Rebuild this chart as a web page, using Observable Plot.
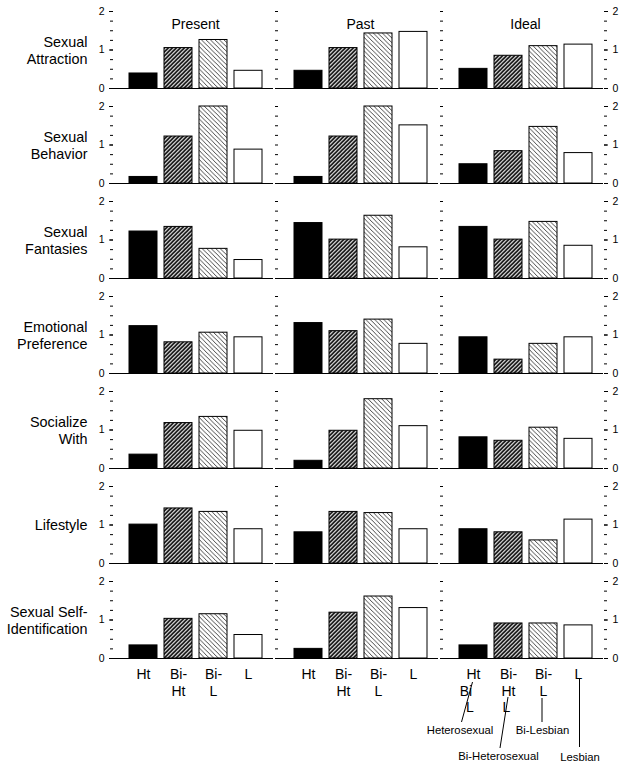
<!DOCTYPE html>
<html><head><meta charset="utf-8">
<script src="https://cdn.jsdelivr.net/npm/d3@7"></script>
<script src="https://cdn.jsdelivr.net/npm/@observablehq/plot@0.6"></script>
<style>
html,body{margin:0;padding:0;background:#fff;}
#chart{width:626px;height:766px;}
</style></head><body><div id="chart"></div>
<script>
const timeframes = ["Present", "Past", "Ideal"];
const dimensions = ["Sexual Attraction", "Sexual Behavior", "Sexual Fantasies", "Emotional Preference", "Socialize With", "Lifestyle", "Sexual Self-Identification"];
const rowLabels = ["Sexual\nAttraction", "Sexual\nBehavior", "Sexual\nFantasies", "Emotional\nPreference", "Socialize\nWith", "Lifestyle", "Sexual Self-\nIdentification"];
const groups = ["Ht", "Bi-Ht", "Bi-L", "L"];
const groupTickLabels = ["Ht", "Bi-\nHt", "Bi-\nL", "L"];
const groupNames = ["Heterosexual", "Bi-Heterosexual", "Bi-Lesbian", "Lesbian"];
const majorTicks = [0, 1, 2];
const minorTicks = [0, 0.25, 0.5, 0.75, 1, 1.25, 1.5, 1.75, 2];

// rows = dimensions, columns = groups (Ht, Bi-Ht, Bi-L, L)
const present = [
  [0.39, 1.05, 1.26, 0.46],
  [0.17, 1.22, 2.00, 0.88],
  [1.22, 1.34, 0.77, 0.48],
  [1.23, 0.81, 1.06, 0.94],
  [0.36, 1.18, 1.34, 0.98],
  [1.01, 1.43, 1.34, 0.89],
  [0.34, 1.03, 1.15, 0.61]
];
const past = [
  [0.46, 1.05, 1.43, 1.47],
  [0.17, 1.22, 2.00, 1.51],
  [1.44, 1.01, 1.63, 0.81],
  [1.31, 1.10, 1.40, 0.77],
  [0.20, 0.98, 1.80, 1.10],
  [0.81, 1.34, 1.31, 0.89],
  [0.25, 1.19, 1.61, 1.31]
];
const ideal = [
  [0.51, 0.85, 1.10, 1.14],
  [0.50, 0.84, 1.47, 0.79],
  [1.34, 1.01, 1.47, 0.85],
  [0.94, 0.36, 0.77, 0.94],
  [0.81, 0.72, 1.06, 0.77],
  [0.89, 0.81, 0.60, 1.14],
  [0.34, 0.91, 0.91, 0.86]
];
// stray overlapping labels visible under the Ideal column in the original
const strayLabels = [["Ht", "Bi"], ["Ht", "L"], ["Bi-Ht", "L"]];

const valuesByTime = {Present: present, Past: past, Ideal: ideal};
const rows = [];
timeframes.forEach(t => dimensions.forEach((d, i) => groups.forEach((g, j) =>
  rows.push({time: t, dim: d, group: g, value: valuesByTime[t][i][j]}))));

const font = "'Liberation Sans', Arial, Helvetica, sans-serif";
const lastDim = dimensions[dimensions.length - 1];
const M = {top: 10.7, bottom: 107, left: 113, right: 23};

// layout of the legend annotations (pixel offsets from bar centre / baseline)
const annText = {"Ht": [-13.5, 75], "Bi-Ht": [-10, 101.5], "Bi-L": [-1, 75], "L": [1.5, 102]};
const annLine = {"Ht": [-11.5, 64, -0.5, 24], "Bi-Ht": [-8, 90, 0, 39], "Bi-L": [-1, 40, -1, 64], "L": [1.5, 21, 1.5, 89]};
const strayPos = [[-7.5, 37], [-3.5, 53], [-2, 53]];

const annMarks = groups.map((g, i) => Plot.text([g], {
  fx: () => "Ideal", fy: () => lastDim, x: d => d, text: () => groupNames[i],
  frameAnchor: "bottom", dx: annText[g][0], dy: annText[g][1], fontSize: 11.3, fill: "black"
}));
const strayMarks = strayLabels.map(([g, t], i) => Plot.text([g], {
  fx: () => "Ideal", fy: () => lastDim, x: d => d, text: () => t,
  frameAnchor: "bottom", dx: strayPos[i][0], dy: strayPos[i][1], fontSize: 14, fill: "black"
}));

const plot = Plot.plot({
  width: 626, height: 766,
  marginTop: M.top, marginBottom: M.bottom, marginLeft: M.left, marginRight: M.right,
  style: {fontFamily: font, fontSize: "14px", color: "black", background: "white", overflow: "visible"},
  fx: {domain: timeframes, paddingInner: 5 / 165, paddingOuter: 0, axis: null, label: null},
  fy: {domain: dimensions, paddingInner: 0.19, paddingOuter: 0, axis: null, label: null},
  x: {domain: groups, paddingInner: 0.21, paddingOuter: 0, insetLeft: 15.5, insetRight: 11, axis: null, label: null},
  y: {domain: [0, 2], axis: null, label: null},
  color: {type: "ordinal", domain: groups, range: ["black", "url(#hatchBiHt)", "url(#hatchBiL)", "white"]},
  marks: [
    Plot.barY(rows, {fx: "time", fy: "dim", x: "group", y: "value", fill: "group", stroke: "black", strokeWidth: 1}),
    Plot.ruleY([0], {stroke: "black", strokeWidth: 1.2}),
    Plot.axisY({ticks: minorTicks, anchor: "left", tickSize: 3, text: null, line: true, facetAnchor: null}),
    Plot.axisY({ticks: majorTicks, anchor: "left", tickSize: 4, tickPadding: 5, fontSize: 10.5, tickFormat: d => String(d), facetAnchor: "left"}),
    Plot.axisY({ticks: minorTicks, anchor: "right", tickSize: 3, text: null, line: true, facetAnchor: "right"}),
    Plot.axisY({ticks: majorTicks, anchor: "right", tickSize: 4, tickPadding: 5, fontSize: 10.5, tickFormat: d => String(d), facetAnchor: "right"}),
    Plot.axisX({anchor: "bottom", tickSize: 0, tickPadding: 9, fontSize: 14, lineHeight: 1.2,
      tickFormat: d => groupTickLabels[groups.indexOf(d)], facetAnchor: "bottom"}),
    Plot.text(timeframes, {fx: d => d, fy: () => dimensions[0], text: d => d, frameAnchor: "top", dy: 8, dx: 2, fontSize: 14}),
    Plot.text(dimensions, {fx: () => timeframes[0], fy: d => d, text: (d, i) => rowLabels[i],
      frameAnchor: "left", textAnchor: "end", dx: -26, fontSize: 14.4, lineHeight: 1.15}),
    ...strayMarks,
    ...annMarks
  ]
});

const svg = d3.select(plot);
const defs = svg.insert("defs", ":first-child");
function hatch(id, w, width, color, forward) {
  const p = defs.append("pattern").attr("id", id).attr("patternUnits", "userSpaceOnUse")
    .attr("width", w).attr("height", w);
  p.append("rect").attr("width", w).attr("height", w).attr("fill", "white");
  const d = forward
    ? `M0,${w} L${w},0 M-1,1 L1,-1 M${w - 1},${w + 1} L${w + 1},${w - 1}`
    : `M0,0 L${w},${w} M-1,${w - 1} L1,${w + 1} M${w - 1},-1 L${w + 1},1`;
  p.append("path").attr("d", d).attr("stroke", color).attr("stroke-width", width).attr("fill", "none");
}
hatch("hatchBiHt", 4, 1.6, "black", true);
hatch("hatchBiL", 4.5, 0.9, "#333", false);

// leader lines for the legend annotations, positioned with Plot's own scales
const sx = plot.scale("x"), sfx = plot.scale("fx"), sfy = plot.scale("fy"), sy = plot.scale("y");
const ox = sfx.apply("Ideal") - M.left, oy = sfy.apply(lastDim) - M.top + sy.apply(0);
const lg = svg.append("g").attr("stroke", "black").attr("stroke-width", 1);
groups.forEach(g => {
  const cx = ox + sx.apply(g) + sx.bandwidth / 2;
  const [x1, y1, x2, y2] = annLine[g];
  lg.append("line").attr("x1", cx + x1).attr("y1", oy + y1).attr("x2", cx + x2).attr("y2", oy + y2);
});

document.getElementById("chart").appendChild(plot);
</script></body></html>
